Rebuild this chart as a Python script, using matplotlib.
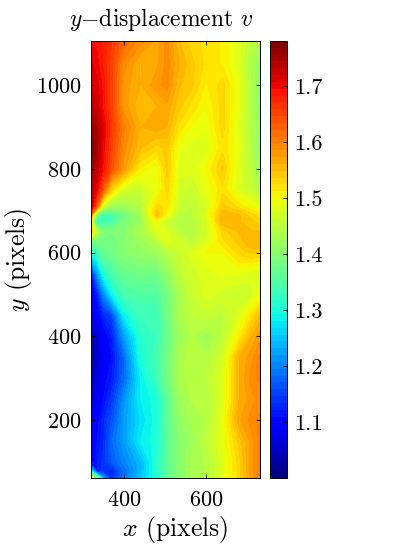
import numpy as np
import matplotlib
matplotlib.use('Agg')
import matplotlib.pyplot as plt

plt.rcParams['font.family'] = 'cmr10'
plt.rcParams['mathtext.fontset'] = 'cm'
plt.rcParams['axes.formatter.use_mathtext'] = True

# values
x_cols = [320, 335, 350, 370, 400, 440, 480, 505, 535, 565, 600, 640, 680, 710, 730]
y_rows = [1105, 1050, 1000, 950, 900, 850, 800, 750, 710, 690, 675, 650, 625, 600,
          550, 500, 450, 400, 350, 300, 250, 200, 150, 100, 78, 62]
v = [
    [1.70, 1.69, 1.68, 1.66, 1.62, 1.59, 1.57, 1.59, 1.55, 1.53, 1.52, 1.51, 1.48, 1.45, 1.44],
    [1.71, 1.70, 1.68, 1.65, 1.59, 1.56, 1.57, 1.59, 1.56, 1.54, 1.52, 1.51, 1.48, 1.43, 1.42],
    [1.72, 1.71, 1.69, 1.65, 1.58, 1.56, 1.58, 1.59, 1.55, 1.54, 1.51, 1.53, 1.49, 1.44, 1.41],
    [1.74, 1.72, 1.69, 1.65, 1.58, 1.55, 1.56, 1.57, 1.54, 1.52, 1.50, 1.53, 1.49, 1.44, 1.41],
    [1.76, 1.74, 1.71, 1.66, 1.60, 1.56, 1.57, 1.56, 1.52, 1.50, 1.49, 1.53, 1.48, 1.44, 1.42],
    [1.78, 1.75, 1.70, 1.65, 1.59, 1.55, 1.53, 1.54, 1.49, 1.48, 1.48, 1.52, 1.49, 1.44, 1.41],
    [1.76, 1.73, 1.69, 1.64, 1.58, 1.51, 1.49, 1.54, 1.48, 1.48, 1.50, 1.54, 1.48, 1.45, 1.42],
    [1.74, 1.70, 1.63, 1.53, 1.47, 1.46, 1.49, 1.53, 1.47, 1.46, 1.49, 1.52, 1.48, 1.46, 1.44],
    [1.73, 1.62, 1.46, 1.42, 1.42, 1.44, 1.53, 1.52, 1.46, 1.45, 1.47, 1.54, 1.52, 1.50, 1.49],
    [1.60, 1.38, 1.33, 1.34, 1.38, 1.42, 1.55, 1.50, 1.45, 1.45, 1.48, 1.56, 1.55, 1.53, 1.52],
    [1.50, 1.32, 1.33, 1.34, 1.39, 1.42, 1.50, 1.46, 1.44, 1.44, 1.47, 1.56, 1.55, 1.54, 1.53],
    [1.55, 1.44, 1.40, 1.39, 1.40, 1.43, 1.48, 1.48, 1.45, 1.44, 1.47, 1.53, 1.55, 1.55, 1.55],
    [1.38, 1.38, 1.38, 1.38, 1.40, 1.42, 1.44, 1.48, 1.47, 1.45, 1.48, 1.52, 1.54, 1.56, 1.56],
    [1.30, 1.33, 1.37, 1.38, 1.40, 1.41, 1.42, 1.44, 1.46, 1.48, 1.50, 1.50, 1.53, 1.54, 1.54],
    [1.12, 1.22, 1.30, 1.34, 1.37, 1.38, 1.38, 1.41, 1.45, 1.47, 1.48, 1.49, 1.49, 1.48, 1.47],
    [1.09, 1.12, 1.20, 1.28, 1.34, 1.35, 1.35, 1.38, 1.43, 1.46, 1.48, 1.47, 1.46, 1.47, 1.49],
    [1.06, 1.09, 1.13, 1.15, 1.28, 1.33, 1.33, 1.38, 1.43, 1.45, 1.46, 1.45, 1.48, 1.52, 1.55],
    [1.03, 1.06, 1.09, 1.12, 1.22, 1.31, 1.33, 1.37, 1.42, 1.44, 1.42, 1.45, 1.51, 1.56, 1.58],
    [1.01, 1.05, 1.09, 1.11, 1.18, 1.30, 1.34, 1.38, 1.43, 1.45, 1.44, 1.47, 1.56, 1.58, 1.60],
    [1.03, 1.07, 1.10, 1.12, 1.18, 1.28, 1.33, 1.38, 1.43, 1.45, 1.45, 1.48, 1.56, 1.59, 1.60],
    [1.05, 1.08, 1.11, 1.14, 1.21, 1.28, 1.30, 1.36, 1.42, 1.44, 1.44, 1.48, 1.56, 1.58, 1.59],
    [1.08, 1.10, 1.13, 1.16, 1.22, 1.27, 1.30, 1.36, 1.41, 1.43, 1.44, 1.49, 1.57, 1.59, 1.60],
    [1.09, 1.11, 1.13, 1.18, 1.22, 1.28, 1.30, 1.36, 1.40, 1.42, 1.45, 1.49, 1.54, 1.58, 1.60],
    [1.09, 1.12, 1.14, 1.17, 1.20, 1.24, 1.31, 1.36, 1.40, 1.43, 1.44, 1.48, 1.53, 1.58, 1.60],
    [1.30, 1.12, 1.14, 1.12, 1.18, 1.24, 1.31, 1.36, 1.40, 1.43, 1.44, 1.48, 1.53, 1.58, 1.60],
    [1.52, 1.42, 1.22, 1.14, 1.19, 1.25, 1.31, 1.36, 1.40, 1.43, 1.44, 1.48, 1.53, 1.58, 1.60],
]
levels = np.linspace(1.0, 1.78, 65)
cbar_ticks = [1.1, 1.2, 1.3, 1.4, 1.5, 1.6, 1.7]

W, H = 396, 547
fig = plt.figure(figsize=(W / 100, H / 100), dpi=100)
ax = fig.add_axes([91 / W, 1 - 478 / H, 168.5 / W, 437 / H])
cax = fig.add_axes([270 / W, 1 - 478 / H, 17 / W, 437 / H])

cf = ax.contourf(x_cols, y_rows, v, levels=levels, cmap=plt.get_cmap('jet', 64))
ax.set_xlim(320, 730)
ax.set_ylim(62, 1105)
ax.set_xticks([400, 600])
ax.set_yticks([200, 400, 600, 800, 1000])
ax.tick_params(direction='in', length=3, width=0.6, labelsize=16, top=True, right=True)
ax.tick_params(axis='x', pad=9)
ax.tick_params(axis='y', pad=7)
for s in ax.spines.values():
    s.set_linewidth(0.7)
ax.set_title(r'$y{-}$displacement $v$', fontsize=17, pad=11, x=0.415)
ax.set_xlabel(r'$x$ (pixels)', fontsize=18.5, labelpad=3)
ax.set_ylabel(r'$y$ (pixels)', fontsize=18.5, labelpad=1)

cb = fig.colorbar(cf, cax=cax, ticks=cbar_ticks)
cb.ax.tick_params(direction='in', length=3, width=0.6, labelsize=16, pad=5)
cb.ax.set_yticklabels(['%.1f' % t for t in cbar_ticks])
cb.outline.set_linewidth(0.7)

fig.savefig('out.png', dpi=100)
